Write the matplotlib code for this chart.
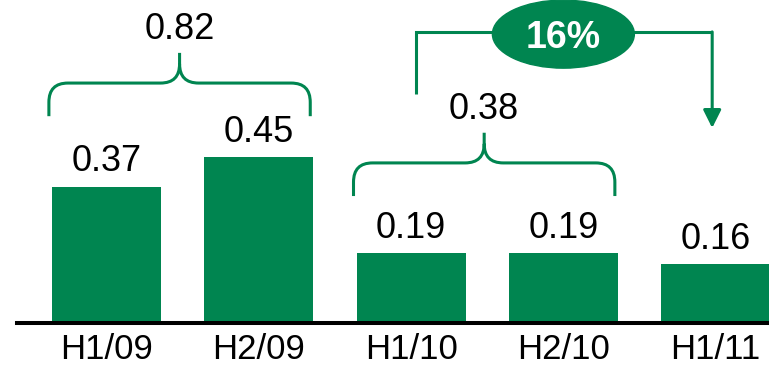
import matplotlib.pyplot as plt
from matplotlib.path import Path
from matplotlib.patches import PathPatch, Ellipse

periods = ["H1/09", "H2/09", "H1/10", "H2/10", "H1/11"]
values = [0.37, 0.45, 0.19, 0.19, 0.16]

# bars joined by a brace, with the level of the brace's horizontal stroke
brace_groups = [(0, 1), (2, 3)]
brace_levels = [0.652, 0.435]

GREEN = "#008550"
plt.rcParams["font.family"] = ["Liberation Sans", "DejaVu Sans"]

BAR_W = 0.716


def draw_brace(ax, x0, x1, y, rx=0.125, ry=0.052, end=0.038, stem=0.030):
    xm = (x0 + x1) / 2
    verts = [
        (x0, y - ry - end), (x0, y - ry),
        (x0, y), (x0 + rx, y),
        (xm - rx, y),
        (xm, y), (xm, y + ry),
        (xm, y + ry + stem),
        (x1, y - ry - end), (x1, y - ry),
        (x1, y), (x1 - rx, y),
        (xm + rx, y),
        (xm, y), (xm, y + ry),
    ]
    codes = [Path.MOVETO, Path.LINETO, Path.CURVE3, Path.CURVE3, Path.LINETO,
             Path.CURVE3, Path.CURVE3, Path.LINETO,
             Path.MOVETO, Path.LINETO, Path.CURVE3, Path.CURVE3, Path.LINETO,
             Path.CURVE3, Path.CURVE3]
    ax.add_patch(PathPatch(Path(verts, codes), fill=False, edgecolor=GREEN,
                           lw=2.2, capstyle="butt"))
    return xm, y + ry + stem


fig = plt.figure(figsize=(7.69, 3.71), dpi=100)
ax = fig.add_axes([0, 48 / 371, 1, 323 / 371])

x = list(range(len(periods)))
ax.bar(x, values, width=BAR_W, color=GREEN, zorder=1)

for xi, v in zip(x, values):
    ax.text(xi, v + 0.042, f"{v:.2f}", ha="center", va="baseline", fontsize=26)

# braces with summed totals above each half-year pair
for (a, b), level in zip(brace_groups, brace_levels):
    xm, tip = draw_brace(ax, a - BAR_W / 2 - 0.02, b + BAR_W / 2 - 0.02, level)
    ax.text(xm, tip + 0.038, f"{values[a] + values[b]:.2f}",
            ha="center", va="baseline", fontsize=26)

# change from H2/10 to H1/11
pct = round(abs(values[4] - values[3]) / values[3] * 100)
x_from, x_to = 2 + 0.03, 4 - 0.023
y_top = 0.791
ax.plot([x_from, x_from, x_to], [0.622, y_top, y_top], color=GREEN, lw=2.2,
        solid_joinstyle="miter", solid_capstyle="butt")
ax.annotate("", xy=(x_to, 0.530), xytext=(x_to, y_top),
            arrowprops=dict(arrowstyle="-|>", color=GREEN, lw=2.2,
                            mutation_scale=27, shrinkA=0, shrinkB=0))
ax.add_patch(Ellipse((3, 0.785), 0.932, 0.185, color=GREEN, zorder=3))
ax.text(3, 0.785, f"{pct}%", ha="center", va="center_baseline", color="white",
        fontsize=27, fontweight="bold", zorder=4)

ax.set_xlim(-0.699, 4.350)
ax.set_ylim(0, 0.8777)
ax.set_xticks(x, periods)
ax.set_yticks([])
ax.tick_params(axis="x", length=0, pad=7, labelsize=25)
for side in ["left", "top", "right"]:
    ax.spines[side].set_visible(False)
ax.spines["bottom"].set_linewidth(2.9)
ax.spines["bottom"].set_color("black")
ax.spines["bottom"].set_bounds(-0.588, 4.350)
ax.spines["bottom"].set_zorder(2.5)

fig.savefig("out.png", dpi=100)
